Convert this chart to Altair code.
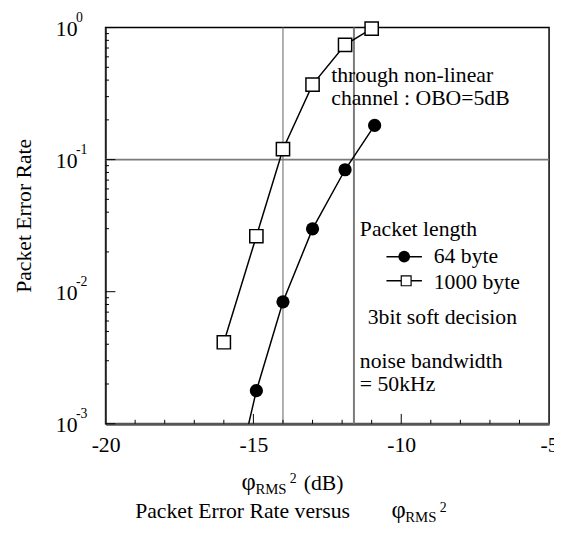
import altair as alt
import pandas as pd

FONT = "Liberation Serif"

# ---- data ----
x_64 = [-15.5, -14.9, -14.0, -13.0, -11.9, -10.9]
per_64 = [0.00047, 0.00178, 0.00838, 0.0299, 0.0838, 0.1815]
x_1000 = [-16.0, -14.9, -14.0, -13.0, -11.9, -11.0]
per_1000 = [0.00414, 0.0263, 0.120, 0.37, 0.74, 0.98]

ref_x = [-14.0, -11.6]
ref_y = [0.1]

x_ticks = [-20, -15, -10, -5]
x_minor = [-19, -18, -17, -16, -14, -13, -12, -11, -9, -8, -7, -6]
x_major = [-15, -10]
y_ticks = [1, 0.1, 0.01, 0.001]
y_exps = ["0", "-1", "-2", "-3"]
y_minor = [m * 10 ** e for e in (-3, -2, -1) for m in range(2, 10)]

df64 = pd.DataFrame({"x": x_64, "y": per_64})
df1000 = pd.DataFrame({"x": x_1000, "y": per_1000})

xs = alt.Scale(domain=[-20, -5], nice=False, zero=False)
ys = alt.Scale(type="log", domain=[0.001, 1], nice=False)

xaxis = alt.Axis(values=x_ticks, labelExpr="'' + datum.value", labelFlush=False,
                 labelFont=FONT, labelFontSize=22, labelColor="black",
                 labelPadding=11, labelOverlap=False, domainColor="#555",
                 domainWidth=3, ticks=False, tickSize=0, grid=False, title=None)
yaxis = alt.Axis(values=y_ticks, labelExpr="'10'", labelFlush=False, labelPadding=29,
                 labelFont=FONT, labelFontSize=22, labelColor="black",
                 labelOffset=1, labelBaseline="middle", labelOverlap=False,
                 domainColor="#333", domainWidth=1.5, ticks=False, tickSize=0,
                 grid=False, title=None)


def X(f):
    return alt.X(f, scale=xs, axis=xaxis)


def Y(f):
    return alt.Y(f, scale=ys, axis=yaxis)


# reference lines
vlines = alt.Chart(pd.DataFrame({"x": ref_x, "w": [1.2, 2.0]})).mark_rule(
    color="#7a7a7a").encode(x=X("x:Q"), strokeWidth=alt.StrokeWidth("w:Q", scale=None, legend=None))
hline = alt.Chart(pd.DataFrame({"y": ref_y})).mark_rule(
    color="#7a7a7a", strokeWidth=2).encode(y=Y("y:Q"))

# ticks
xminor = alt.Chart(pd.DataFrame({"x": x_minor})).mark_rule(color="black", strokeWidth=1).encode(
    x=X("x:Q"), y=alt.value(402), y2=alt.value(398))
xmajor = alt.Chart(pd.DataFrame({"x": x_major})).mark_rule(color="black", strokeWidth=1).encode(
    x=X("x:Q"), y=alt.value(402), y2=alt.value(392))
yminor = alt.Chart(pd.DataFrame({"y": y_minor})).mark_rule(color="black", strokeWidth=1).encode(
    y=Y("y:Q"), x=alt.value(0), x2=alt.value(3.5))
ymajor = alt.Chart(pd.DataFrame({"y": y_ticks})).mark_rule(color="black", strokeWidth=1).encode(
    y=Y("y:Q"), x=alt.value(0), x2=alt.value(10))
yexp = alt.Chart(pd.DataFrame({"y": y_ticks, "e": y_exps})).mark_text(
    font=FONT, fontSize=14, align="left", baseline="alphabetic", dy=-6, color="black").encode(
    y=Y("y:Q"), x=alt.value(-30), text="e:N")

# series
line64 = alt.Chart(df64).mark_line(color="black", strokeWidth=1.5, clip=True).encode(
    x=X("x:Q"), y=Y("y:Q"))
pts64 = alt.Chart(df64).transform_filter("datum.y >= 0.001").mark_point(
    shape="circle", filled=True, fill="black", color="black", size=180, opacity=1).encode(
    x=X("x:Q"), y=Y("y:Q"))
line1000 = alt.Chart(df1000).mark_line(color="black", strokeWidth=1.5).encode(
    x=X("x:Q"), y=Y("y:Q"))
pts1000 = alt.Chart(df1000).mark_point(
    shape="square", filled=True, fill="white", stroke="black", strokeWidth=1.5,
    size=180, opacity=1).encode(x=X("x:Q"), y=Y("y:Q"))


def label(text, x, y, size=22, align="left", baseline="alphabetic", angle=0):
    kw = dict(font=FONT, fontSize=size, align=align, baseline=baseline, color="black")
    if angle:
        kw["angle"] = angle
    return alt.Chart(pd.DataFrame({"t": [text]})).mark_text(**kw).encode(
        x=alt.value(x), y=alt.value(y), text="t:N")


texts = [
    label("through non-linear", 229, 55),
    label("channel : OBO=5dB", 229, 79),
    label("Packet length", 258, 212),
    label("64 byte", 333, 239),
    label("1000 byte", 333, 265),
    label("3bit soft decision", 266, 301),
    label("noise bandwidth", 258, 345),
    label("= 50kHz", 258, 369),
    # y title
    label("Packet Error Rate", -83, 191, size=22, align="center", baseline="middle", angle=270),
    # x title
    label("φ", 138, 469, size=25),
    label("RMS", 152, 473, size=15),
    label("2", 187, 462, size=14),
    label("(dB)", 201, 469),
    # caption
    label("Packet Error Rate versus", 30, 498),
    label("φ", 290, 498, size=25),
    label("RMS", 304, 502, size=15),
    label("2", 339, 492, size=14),
]

# legend glyphs
leg = [
    alt.Chart(pd.DataFrame({"s": ["64 byte"]})).mark_rule(color="black", strokeWidth=1.5).encode(
        x=alt.value(285), x2=alt.value(321), y=alt.value(232.5)),
    alt.Chart(pd.DataFrame({"s": ["64 byte"]})).mark_point(
        shape="circle", filled=True, fill="black", color="black", size=140, opacity=1).encode(
        x=alt.value(303), y=alt.value(232.5)),
    alt.Chart(pd.DataFrame({"s": ["1000 byte"]})).mark_rule(color="black", strokeWidth=1.5).encode(
        x=alt.value(285), x2=alt.value(321), y=alt.value(257)),
    alt.Chart(pd.DataFrame({"s": ["1000 byte"]})).mark_point(
        shape="square", filled=True, fill="white", stroke="black", strokeWidth=1.2,
        size=100, opacity=1).encode(x=alt.value(305), y=alt.value(257)),
]

chart = alt.layer(
    vlines, hline, xminor, xmajor, yminor, ymajor, yexp,
    line64, line1000, pts64, pts1000, *leg, *texts
).properties(
    width=450, height=402,
    autosize=alt.AutoSizeParams(type="none"),
    padding={"left": 99, "top": 16, "right": 5, "bottom": 107},
).configure_view(
    stroke="black", strokeWidth=1.5
).configure_axis(
    labelFont=FONT, labelFontSize=22, labelColor="black"
)

chart.save("out.html", embed_options={"renderer": "svg", "actions": False})
